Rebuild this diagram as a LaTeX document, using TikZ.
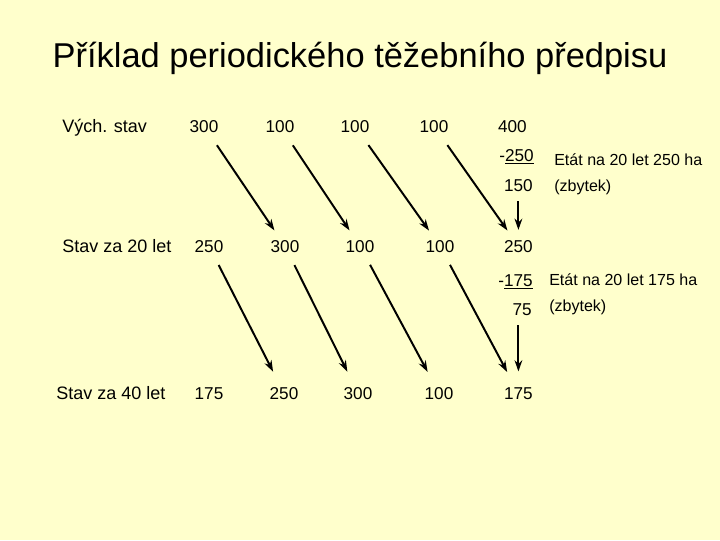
\documentclass[tikz,border=0pt]{standalone}
\usepackage{fontspec}
\setmainfont{Liberation Sans}
\usetikzlibrary{arrows.meta}
\definecolor{bgyellow}{RGB}{255,255,204}
\newcommand{\cutline}[1]{\setbox0\hbox{#1}\rlap{\rule[-2.4pt]{\wd0}{1.3pt}}\box0}

\begin{document}
\begin{tikzpicture}[x=0.025cm,y=-0.025cm,
  num/.style={anchor=base,inner sep=0pt,font=\fontsize{12.2}{14}\selectfont},
  lab/.style={anchor=base west,inner sep=0pt,font=\fontsize{12.8}{15}\selectfont},
  note/.style={anchor=base west,inner sep=0pt,font=\fontsize{11.4}{14}\selectfont}]
\fill[bgyellow] (0,0) rectangle (720,540);
\useasboundingbox (0,0) rectangle (720,540);
\node[anchor=base,inner sep=0pt,font=\fontsize{24.5}{29}\selectfont] (T) at (360,67) {Příklad periodického těžebního předpisu};
% row labels
\node[lab] (L1) at (62,132) {Vých. stav};
\node[lab] (L2) at (62,252) {Stav za 20 let};
\node[lab] (L3) at (56,399) {Stav za 40 let};
% first row
\node[num] (A1) at (204,132) {300};
\node[num] (A2) at (280,132) {100};
\node[num] (A3) at (355,132) {100};
\node[num] (A4) at (434,132) {100};
\node[num,anchor=base east] (A5) at (527,132) {400};
\node[num,anchor=base east] (D1) at (534,161) {-\cutline{250}};
\node[num,anchor=base east] (R1) at (533,191) {150};
\node[note] (E1) at (554,165) {Etát na 20 let 250 ha};
\node[note] (Z1) at (554,191) {(zbytek)};
% second row
\node[num] (B1) at (209,252) {250};
\node[num] (B2) at (285,252) {300};
\node[num] (B3) at (360,252) {100};
\node[num] (B4) at (440,252) {100};
\node[num,anchor=base east] (B5) at (533,252) {250};
\node[num,anchor=base east] (D2) at (533,286) {-\cutline{175}};
\node[num,anchor=base east] (R2) at (532,315) {75};
\node[note] (E2) at (549,285) {Etát na 20 let 175 ha};
\node[note] (Z2) at (549,311) {(zbytek)};
% third row
\node[num] (C1) at (209,399) {175};
\node[num] (C2) at (284,399) {250};
\node[num] (C3) at (358,399) {300};
\node[num] (C4) at (439,399) {100};
\node[num,anchor=base east] (C5) at (533,399) {175};
\path[->,>={Stealth[length=8pt,width=5.5pt]},line width=1.4pt,shorten <=11pt,shorten >=8pt]
(A1) edge (B2)
(A2) edge (B3)
(A3) edge (B4)
(A4) edge (B5)
(R1) edge[shorten <=7pt,shorten >=7pt] (B5);
\path[->,>={Stealth[length=8pt,width=5.5pt]},line width=1.4pt,shorten <=10pt,shorten >=12pt]
(B1) edge (C2)
(B2) edge (C3)
(B3) edge (C4)
(B4) edge (C5)
(C5 |- R2.south) edge[shorten <=7pt,shorten >=11pt] (C5);
\end{tikzpicture}
\end{document}
